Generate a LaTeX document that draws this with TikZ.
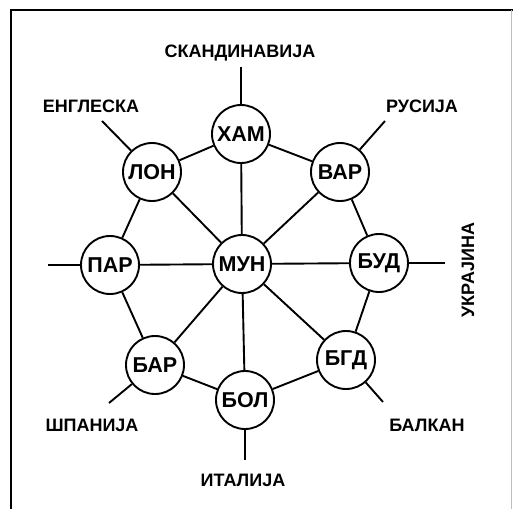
\documentclass[tikz,border=0pt]{standalone}
\usepackage{fontspec}
\setmainfont{Liberation Sans}
\begin{document}
\begin{tikzpicture}[x=1pt,y=-1pt,line width=1.9pt,
    city/.style={circle,draw,fill=white,minimum size=58pt,inner sep=0pt,
                 font=\bfseries\fontsize{21.5}{21.5}\selectfont},
    region/.style={font=\bfseries\fontsize{18}{18}\selectfont}]
\useasboundingbox (0,0) rectangle (515,509);

% frame
\draw (11,509) -- (11,10) -- (513,10);
\draw[gray!50,line width=1pt] (511,10) -- (511,509);

% the cities
\node[city] (mun) at (242,264) {МУН};
\node[city] (ham) at (241,134) {ХАМ};
\node[city] (var) at (340,172) {ВАР};
\node[city] (bud) at (379,263) {БУД};
\node[city] (bgd) at (346,360) {БГД};
\node[city] (bol) at (245,400) {БОЛ};
\node[city] (bar) at (155,365) {БАР};
\node[city] (par) at (110,265) {ПАР};
\node[city] (lon) at (152,172) {ЛОН};

% ends of the outward lines
\coordinate (skan) at (241,67);
\coordinate (rus) at (385,121);
\coordinate (ukr) at (445,263);
\coordinate (balk) at (383,402);
\coordinate (ital) at (245,460);
\coordinate (span) at (109,403);
\coordinate (fra) at (48,265);
\coordinate (engl) at (102,121);

% ring and spokes
\foreach \a/\b in {ham/var,var/bud,bud/bgd,bgd/bol,bol/bar,bar/par,par/lon,lon/ham}
  \draw (\a) -- (\b);
\foreach \c in {ham,var,bud,bgd,bol,bar,par,lon}
  \draw (mun) -- (\c);

% outward lines
\foreach \a/\b in {ham/skan,var/rus,bud/ukr,bgd/balk,bol/ital,bar/span,par/fra,lon/engl}
  \draw (\a) -- (\b);

% region names
\node[region] (skanl) at (240,53) {СКАНДИНАВИЈА};
\node[region] (rusl) at (422,106) {РУСИЈА};
\node[region] (englt) at (91,106) {ЕНГЛЕСКА};
\node[region,rotate=90] (ukrl) at (468,270) {УКРАЈИНА};
\node[region] (balkl) at (427,425) {БАЛКАН};
\node[region] (spanl) at (92,425) {ШПАНИЈА};
\node[region] (itall) at (243,480) {ИТАЛИЈА};
\end{tikzpicture}
\end{document}
